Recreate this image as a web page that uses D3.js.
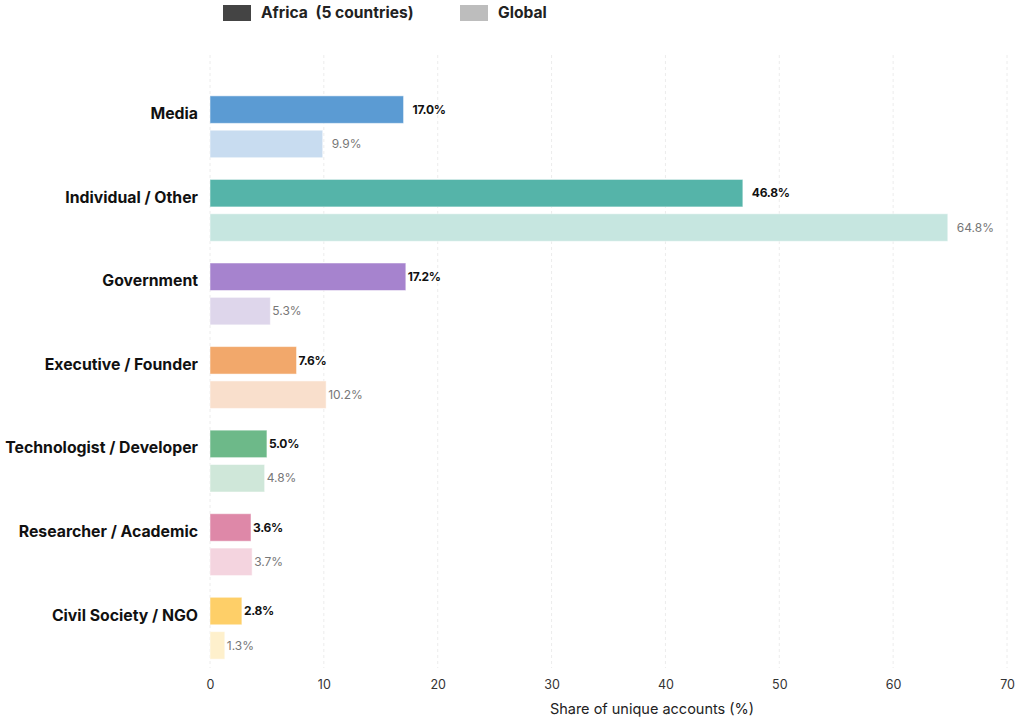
<!DOCTYPE html>
<html>
<head>
<meta charset="utf-8">
<script src="https://cdn.jsdelivr.net/npm/d3@7/dist/d3.min.js"></script>
<style>
body { margin: 0; background: #fff; }
svg { display: block; font-family: Inter, "Open Sans", sans-serif; }
</style>
</head>
<body>
<svg id="chart" width="1016" height="718"></svg>
<script>
const categories = ["Media", "Individual / Other", "Government", "Executive / Founder", "Technologist / Developer", "Researcher / Academic", "Civil Society / NGO"];
const africaValues = [17.0, 46.8, 17.2, 7.6, 5.0, 3.6, 2.8];
const globalValues = [9.9, 64.8, 5.3, 10.2, 4.8, 3.7, 1.3];
const seriesNames = ["Africa\u2002(5 countries)", "Global"];
const xTicks = [0, 10, 20, 30, 40, 50, 60, 70];
const africaColors = ["#5b9bd3", "#55b4a9", "#a683ce", "#f2a86b", "#6db989", "#de88a8", "#fecf68"];
const globalColors = ["#c8dcf0", "#c6e6e0", "#ded6eb", "#f9dfcc", "#cfe7d9", "#f4d4df", "#fef0cc"];
const legendColors = ["#444444", "#bdbdbd"];

const svg = d3.select("#chart");
const x = d3.scaleLinear().domain([0, 70]).range([210, 1007]);
const y = d3.scaleBand().domain(categories).range([85, 670]).paddingInner(0.26).paddingOuter(0.13);
const ySub = d3.scaleBand().domain(["africa", "global"]).range([0, y.bandwidth()]).paddingInner(0.2);

// grid
svg.append("g").selectAll("line").data(xTicks).join("line")
  .attr("x1", d => x(d)).attr("x2", d => x(d))
  .attr("y1", 55).attr("y2", 668)
  .attr("stroke", "#ececec").attr("stroke-width", 1).attr("stroke-dasharray", "3,3");

// axis
const xAxis = d3.axisBottom(x).tickValues(xTicks).tickSize(0).tickPadding(0).tickFormat(d3.format("d"));
const ax = svg.append("g").attr("transform", "translate(0,680)").call(xAxis);
ax.select(".domain").remove();
ax.selectAll("text").attr("font-size", 12.5).attr("fill", "#333").attr("dy", "0.75em").attr("font-family", "Inter, sans-serif");

svg.append("text").attr("x", 652).attr("y", 714).attr("text-anchor", "middle")
  .attr("font-size", 14.5).attr("fill", "#222").text("Share of unique accounts (%)");

const rows = categories.map((c, i) => ({c, i, a: africaValues[i], g: globalValues[i]}));
const grp = svg.append("g").selectAll("g").data(rows).join("g")
  .attr("transform", d => `translate(0,${y(d.c)})`);

grp.append("rect").attr("x", x(0)).attr("y", ySub("africa"))
  .attr("width", d => x(d.a) - x(0)).attr("height", ySub.bandwidth())
  .attr("fill", d => africaColors[d.i]).attr("stroke", "#fff").attr("stroke-opacity", 0.5).attr("stroke-width", 1);
grp.append("rect").attr("x", x(0)).attr("y", ySub("global"))
  .attr("width", d => x(d.g) - x(0)).attr("height", ySub.bandwidth())
  .attr("fill", d => globalColors[d.i]).attr("stroke", "#fff").attr("stroke-opacity", 0.5).attr("stroke-width", 1);

const pad = d => d.i < 2 ? 9 : 2;
grp.append("text").attr("x", d => x(d.a) + pad(d)).attr("y", ySub("africa") + ySub.bandwidth() / 2)
  .attr("dy", "0.35em").attr("font-size", 12).attr("font-weight", 700).attr("fill", "#111")
  .attr("letter-spacing", -0.3)
  .text(d => d.a.toFixed(1) + "%");
grp.append("text").attr("x", d => x(d.g) + pad(d)).attr("y", ySub("global") + ySub.bandwidth() / 2)
  .attr("dy", "0.35em").attr("font-size", 12).attr("font-weight", 400).attr("fill", "#777")
  .text(d => d.g.toFixed(1) + "%");

grp.append("text").attr("x", 198).attr("y", ySub("africa") + ySub.bandwidth() / 2 + 4)
  .attr("dy", "0.35em").attr("text-anchor", "end").attr("font-size", 15.8).attr("font-weight", 700).attr("fill", "#111")
  .text(d => d.c);

// legend
const legX = [223, 460];
const leg = svg.append("g").selectAll("g").data(seriesNames).join("g")
  .attr("transform", (d, i) => `translate(${legX[i]},5)`);
leg.append("rect").attr("width", 28).attr("height", 16).attr("fill", (d, i) => legendColors[i]);
leg.append("text").attr("x", 38).attr("y", 8).attr("dy", "0.35em")
  .attr("font-size", 15.6).attr("font-weight", 700).attr("fill", "#222").text(d => d);
</script>
</body>
</html>
